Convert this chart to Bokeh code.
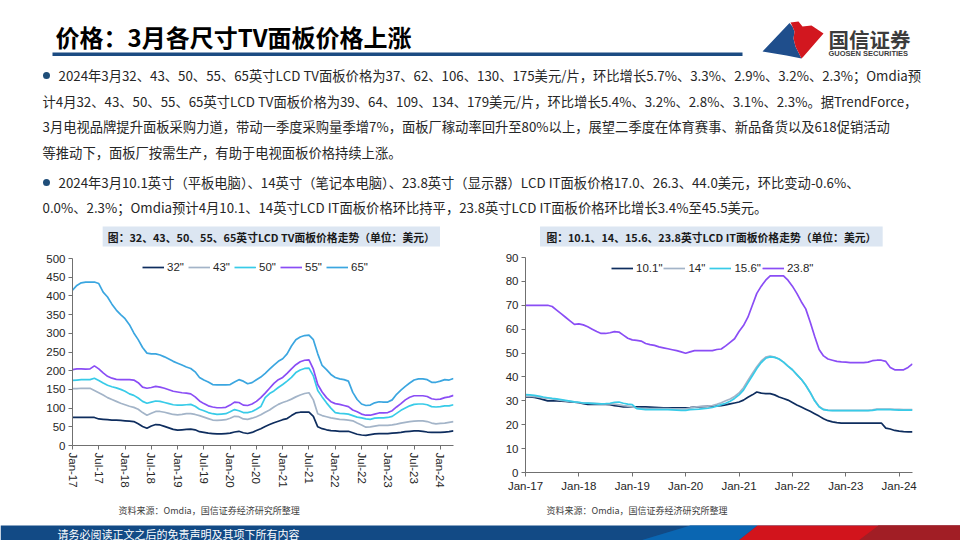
from bokeh.plotting import figure
from bokeh.models import Range1d, FixedTicker
from bokeh.layouts import column, row
from bokeh.core.properties import value
from bokeh.embed import file_html
from bokeh.resources import INLINE

# ---------------- data ----------------
tv_tick_pos = [0, 6, 12, 18, 24, 30, 36, 42, 48, 54, 60, 66, 72, 78, 84]
tv_tick_labels = ["Jan-17", "Jul-17", "Jan-18", "Jul-18", "Jan-19", "Jul-19", "Jan-20", "Jul-20",
                  "Jan-21", "Jul-21", "Jan-22", "Jul-22", "Jan-23", "Jul-23", "Jan-24"]
it_tick_pos = [0, 12, 24, 36, 48, 60, 72, 84]
it_tick_labels = ["Jan-17", "Jan-18", "Jan-19", "Jan-20", "Jan-21", "Jan-22", "Jan-23", "Jan-24"]

months = list(range(88))  # Jan-2017 .. Apr-2024

tv32 = [75, 75, 75, 75, 75, 75, 71, 70, 69, 68, 68, 67,
        66, 65, 64, 58, 51, 46, 52, 56, 55, 51, 47, 43,
        41, 42, 43, 44, 42, 37, 35, 33, 32, 31, 31, 32,
        33, 36, 38, 34, 32, 35, 40, 45, 51, 56, 61, 65,
        69, 72, 80, 87, 89, 89, 89, 78, 50, 45, 42, 40,
        39, 38, 38, 38, 34, 30, 28, 27, 29, 31, 32, 32,
        32, 33, 34, 35, 37, 38, 39, 39, 38, 36, 35, 35,
        35, 36, 37, 39]
tv43 = [152, 152, 153, 153, 153, 147, 141, 135, 128, 123, 118, 113,
        109, 105, 102, 97, 88, 81, 86, 91, 91, 89, 86, 83,
        82, 83, 85, 85, 83, 80, 76, 72, 68, 67, 68, 69,
        73, 78, 77, 71, 70, 73, 77, 82, 89, 95, 103, 110,
        115, 119, 124, 130, 135, 139, 141, 122, 85, 80, 77, 74,
        72, 70, 69, 68, 66, 60, 55, 49, 50, 52, 54, 54,
        54, 55, 57, 60, 62, 64, 65, 66, 66, 64, 60, 58,
        59, 60, 62, 64]
tv50 = [174, 175, 176, 176, 176, 180, 174, 167, 161, 157, 154, 150,
        145, 138, 134, 127, 118, 113, 116, 119, 118, 115, 112, 109,
        108, 108, 109, 110, 105, 97, 93, 88, 85, 83, 84, 85,
        90, 96, 93, 88, 88, 91, 97, 104, 128, 139, 146, 155,
        163, 172, 182, 195, 202, 206, 207, 186, 147, 130, 114, 100,
        88, 86, 85, 84, 80, 76, 74, 71, 70, 73, 74, 74,
        75, 78, 86, 94, 100, 106, 110, 111, 111, 109, 104, 103,
        104, 106, 106, 109]
tv55 = [203, 205, 205, 204, 205, 213, 205, 194, 185, 180, 177, 176,
        176, 176, 175, 168, 156, 153, 155, 158, 156, 153, 149, 145,
        143, 141, 140, 138, 130, 119, 112, 106, 103, 101, 101, 102,
        108, 116, 115, 108, 107, 111, 118, 128, 140, 153, 166, 176,
        182, 193, 205, 216, 224, 228, 229, 204, 163, 143, 128, 117,
        112, 110, 107, 104, 95, 90, 84, 81, 81, 84, 87, 87,
        88, 93, 103, 112, 122, 129, 133, 133, 133, 131, 125, 123,
        124, 128, 130, 134]
tv65 = [415, 428, 435, 437, 437, 437, 433, 410, 397, 378, 362, 350,
        339, 323, 301, 283, 262, 247, 245, 245, 242, 237, 231, 225,
        220, 215, 210, 206, 197, 182, 175, 170, 163, 162, 162, 162,
        163, 170, 176, 172, 165, 168, 176, 183, 193, 204, 215, 225,
        232, 245, 266, 283, 290, 294, 295, 283, 245, 214, 203, 190,
        182, 178, 176, 172, 142, 123, 111, 107, 108, 114, 117, 116,
        116, 122, 137, 148, 158, 167, 175, 178, 178, 176, 169, 169,
        172, 176, 175, 179]

it101 = [31.6, 31.6, 31.4, 31.0, 30.5, 30.0, 30.0, 30.0, 29.9, 29.8, 29.6, 29.4,
         29.2, 28.8, 28.5, 28.5, 28.5, 28.5, 28.5, 28.4, 28.0, 27.8, 27.5, 27.5,
         27.5, 27.5, 27.5, 27.5, 27.4, 27.3, 27.2, 27.1, 27.1, 27.1, 27.1, 27.1,
         27.1, 27.2, 27.4, 27.5, 27.6, 27.7, 27.7, 27.9, 28.0, 28.3, 28.7, 29.1,
         29.5, 30.3, 31.5, 32.5, 33.7, 33.2, 33.0, 33.0, 32.5, 31.6, 31.0, 30.3,
         29.3, 28.3, 27.4, 26.5, 25.6, 24.6, 23.6, 22.5, 21.7, 21.2, 20.9, 20.7,
         20.7, 20.7, 20.7, 20.7, 20.7, 20.7, 20.7, 20.7, 20.7, 18.6, 18.2, 17.6,
         17.3, 17.1, 17.0, 17.0]
it14 = [32.0, 32.0, 31.8, 31.5, 31.2, 31.0, 30.8, 30.5, 30.2, 30.0, 29.8, 29.5,
        29.3, 29.1, 29.0, 28.9, 28.8, 28.7, 28.7, 28.7, 28.6, 28.3, 28.0, 27.8,
        27.5, 27.0, 26.8, 26.8, 26.8, 26.8, 26.7, 26.7, 26.7, 26.6, 26.6, 26.6,
        26.6, 27.0, 27.4, 27.6, 27.7, 27.8, 28.0, 28.5, 29.2, 30.0, 30.8, 31.8,
        33.3, 35.5, 38.5, 41.5, 44.3, 46.7, 48.3, 48.7, 48.3, 47.5, 46.2, 44.5,
        43.0, 41.0, 39.0, 36.5, 33.5, 30.2, 27.6, 26.4, 26.1, 26.0, 26.0, 26.0,
        26.0, 26.0, 26.0, 26.0, 26.0, 26.0, 26.2, 26.5, 26.5, 26.5, 26.5, 26.4,
        26.4, 26.3, 26.3, 26.3]
it156 = [32.6, 32.5, 32.3, 32.0, 31.6, 31.3, 31.0, 30.8, 30.5, 30.2, 29.9, 29.6,
         29.4, 29.1, 29.0, 28.9, 28.8, 28.7, 28.8, 29.0, 29.4, 29.5, 29.0, 28.6,
         28.4, 26.7, 26.5, 26.3, 26.3, 26.3, 26.3, 26.3, 26.3, 26.2, 26.1, 26.0,
         26.0, 26.3, 26.4, 26.5, 26.7, 26.9, 27.2, 27.8, 28.4, 29.0, 29.8, 31.0,
         32.5, 34.5, 37.5, 40.5, 43.5, 46.0, 47.8, 48.4, 48.2, 47.5, 46.2, 44.5,
         43.0, 41.0, 39.0, 36.5, 33.5, 30.0, 27.5, 26.3, 26.0, 25.9, 25.9, 25.9,
         25.9, 25.9, 25.9, 25.9, 25.9, 25.9, 26.0, 26.3, 26.3, 26.3, 26.3, 26.2,
         26.1, 26.1, 26.1, 26.1]
it238 = [70, 70, 70, 70, 70, 70, 69.5, 68, 66.5, 65, 63.5, 62,
         62.2, 61.8, 61, 60, 59, 58.2, 58.2, 58.5, 59, 58.8, 57.5, 56.2,
         55.5, 55.3, 55, 54, 53.5, 53.2, 52.6, 52.2, 51.8, 51.4, 51, 50.5,
         49.9, 50.5, 51, 51, 51, 51, 51, 51.5, 51.7, 53, 54.5, 56,
         59, 61.5, 65, 70, 75, 78, 80.5, 82.3, 82.3, 82.3, 82.3, 80.5,
         78, 75, 71.5, 68.5, 63, 57, 51.5, 48.8, 47.5, 47, 46.5, 46.3,
         46.2, 46, 46, 46, 46, 46.2, 46.8, 47, 47, 46.5, 44.0, 43.0,
         43, 43, 44.0, 45.5]

tv_series = [("32\"", tv32, "#0E2D5E"), ("43\"", tv43, "#A3B4C8"), ("50\"", tv50, "#38CBE8"),
             ("55\"", tv55, "#8A4DF5"), ("65\"", tv65, "#3BA6E0")]
it_series = [("10.1\"", it101, "#0E2D5E"), ("14\"", it14, "#A3B4C8"), ("15.6\"", it156, "#38CBE8"),
             ("23.8\"", it238, "#8A4DF5")]

title_text = "价格：3月各尺寸TV面板价格上涨"
para_lines = [
    "2024年3月32、43、50、55、65英寸LCD TV面板价格为37、62、106、130、175美元/片，环比增长5.7%、3.3%、2.9%、3.2%、2.3%；Omdia预",
    "计4月32、43、50、55、65英寸LCD TV面板价格为39、64、109、134、179美元/片，环比增长5.4%、3.2%、2.8%、3.1%、2.3%。据TrendForce，",
    "3月电视品牌提升面板采购力道，带动一季度采购量季增7%，面板厂稼动率回升至80%以上，展望二季度在体育赛事、新品备货以及618促销活动",
    "等推动下，面板厂按需生产，有助于电视面板价格持续上涨。",
    "2024年3月10.1英寸（平板电脑）、14英寸（笔记本电脑）、23.8英寸（显示器）LCD IT面板价格17.0、26.3、44.0美元，环比变动-0.6%、",
    "0.0%、2.3%；Omdia预计4月10.1、14英寸LCD IT面板价格环比持平，23.8英寸LCD IT面板价格环比增长3.4%至45.5美元。",
]
tv_title = "图：32、43、50、55、65英寸LCD TV面板价格走势（单位：美元）"
it_title = "图：10.1、14、15.6、23.8英寸LCD IT面板价格走势（单位：美元）"
source_text = "资料来源：Omdia，国信证券经济研究所整理"
footer_text = "请务必阅读正文之后的免责声明及其项下所有内容"

CJK = value("Noto Sans CJK SC")
LAT = "Liberation Sans"


def canvas(x0, x1, y0, y1):
    p = figure(width=int(x1 - x0), height=int(y1 - y0), x_range=Range1d(x0, x1),
               y_range=Range1d(y1, y0), x_axis_type=None, y_axis_type=None,
               output_backend="svg", toolbar_location=None, min_border=0)
    p.grid.visible = False
    p.outline_line_color = None
    p.background_fill_color = "white"
    p.border_fill_color = "white"
    return p


# ---------------- header + text ----------------
top = canvas(0, 960, 0, 220)
top.text(x=[55], y=[36], text=[title_text], text_font=CJK, text_font_style="bold",
         text_font_size="24px", text_color="#000000", text_baseline="middle", text_align="left")
top.quad(left=[52], right=[742], top=[52], bottom=[55.5], color="#1B4B82", line_color=None)
# logo
top.patch(x=[762, 789, 792, 794, 793, 795, 801, 786], y=[51, 22.5, 26, 31, 38, 46, 58, 55],
          color="#1F4E8C", line_color=None)
top.patch(x=[790, 798, 802, 811, 823, 803, 801, 795, 793, 794, 792],
          y=[22, 21, 26, 25, 33, 56, 58, 46, 38, 31, 26], color="#D2171F", line_color=None)
top.text(x=[828], y=[38], text=["国信证券"], text_font=CJK, text_font_style="bold",
         text_font_size="20.5px", text_color="#3C3C3C", text_baseline="middle")
top.text(x=[828], y=[52.5], text=["GUOSEN SECURITIES"], text_font=value(LAT), text_font_style="bold",
         text_font_size="7.5px", text_color="#3C3C3C", text_baseline="middle")
top.scatter(x=[46, 46], y=[75, 182], size=7, color="#1F4E79", line_color=None)
para_x = [58, 42, 42, 42, 58, 42]
para_y = [75, 100.5, 126, 151.5, 182, 207]
top.text(x=para_x, y=para_y, text=para_lines, text_font=CJK, text_font_size="13.3px",
         text_color="#262626", text_baseline="middle", text_align="left")


def chart_title(x0, x1, bar_l, bar_r, txt):
    p = canvas(x0, x1, 220, 252)
    p.quad(left=[bar_l], right=[bar_r], top=[226], bottom=[246], color="#DCE6F2", line_color=None)
    p.text(x=[(bar_l + bar_r) / 2], y=[236], text=[txt], text_font=CJK, text_font_style="bold",
           text_font_size="10.8px", text_color="#1A1A1A", text_baseline="middle", text_align="center")
    return p


def source_fig(x0, x1, tx):
    p = canvas(x0, x1, 500, 520)
    p.text(x=[tx], y=[510], text=[source_text], text_font=CJK, text_font_size="9px",
           text_color="#404040", text_baseline="middle", text_align="left")
    return p


def style_chart(p, tick_pos, tick_labels, yticks, vertical):
    p.grid.visible = False
    p.outline_line_color = None
    p.xaxis.ticker = FixedTicker(ticks=tick_pos)
    p.xaxis.major_label_overrides = {pos: lab for pos, lab in zip(tick_pos, tick_labels)}
    p.yaxis.ticker = FixedTicker(ticks=yticks)
    for ax in (p.xaxis, p.yaxis):
        ax.axis_line_color = "#707070"
        ax.major_tick_line_color = "#707070"
        ax.major_tick_out = 4
        ax.major_tick_in = 0
        ax.minor_tick_out = 0
        ax.minor_tick_in = 0
        ax.major_label_text_font = LAT
        ax.major_label_text_font_size = "11.5px"
        ax.major_label_text_color = "#262626"
        ax.major_label_standoff = 3
    if vertical:
        p.xaxis.major_label_orientation = "vertical"
    p.legend.orientation = "horizontal"
    p.legend.background_fill_alpha = 0
    p.legend.border_line_color = None
    p.legend.label_text_font = LAT
    p.legend.label_text_font_size = "11.5px"
    p.legend.label_text_color = "#262626"
    p.legend.glyph_width = 22
    p.legend.glyph_height = 12
    p.legend.label_standoff = 3
    p.legend.spacing = 1
    p.legend.padding = 0
    p.legend.margin = 0


# ---------------- left chart ----------------
tvp = figure(width=480, height=248, x_range=Range1d(0, 87), y_range=Range1d(0, 500),
             output_backend="svg", toolbar_location=None,
             min_border_left=72, min_border_right=27, min_border_top=6, min_border_bottom=55)
for name, vals, col in tv_series:
    tvp.line(months, vals, line_color=col, line_width=1.7, legend_label=name)
style_chart(tvp, tv_tick_pos, tv_tick_labels, list(range(0, 501, 50)), True)
tvp.legend.location = (70, 172)

# ---------------- right chart ----------------
itp = figure(width=480, height=248, x_range=Range1d(0, 87), y_range=Range1d(0, 90),
             output_backend="svg", toolbar_location=None,
             min_border_left=45, min_border_right=48, min_border_top=5, min_border_bottom=28)
for name, vals, col in it_series:
    itp.line(months, vals, line_color=col, line_width=1.7, legend_label=name)
style_chart(itp, it_tick_pos, it_tick_labels, list(range(0, 91, 10)), False)
itp.legend.location = (86, 198)

# ---------------- footer ----------------
foot = canvas(0, 960, 520, 540)
foot.quad(left=[0], right=[960], top=[525], bottom=[540], color="#124A85", line_color=None)
foot.patch(x=[640, 690, 757, 738], y=[540, 525, 525, 540], color="#0A66B2", line_color=None)
foot.patch(x=[738, 757, 960, 960], y=[540, 525, 525, 540], color="#D2141C", line_color=None)
foot.patch(x=[858, 878, 960, 960], y=[540, 525, 525, 540], color="#A11E25", line_color=None)
foot.text(x=[57], y=[533], text=[footer_text], text_font=CJK, text_font_size="11px",
          text_color="#FFFFFF", text_baseline="middle", text_align="left")

left_col = column(chart_title(0, 480, 38, 463, tv_title), tvp, source_fig(0, 480, 58), spacing=0)
right_col = column(chart_title(480, 960, 498, 923, it_title), itp, source_fig(480, 960, 506), spacing=0)
page = column(top, row(left_col, right_col, spacing=0), foot, spacing=0)

open("out.html", "w").write(file_html(page, INLINE))
